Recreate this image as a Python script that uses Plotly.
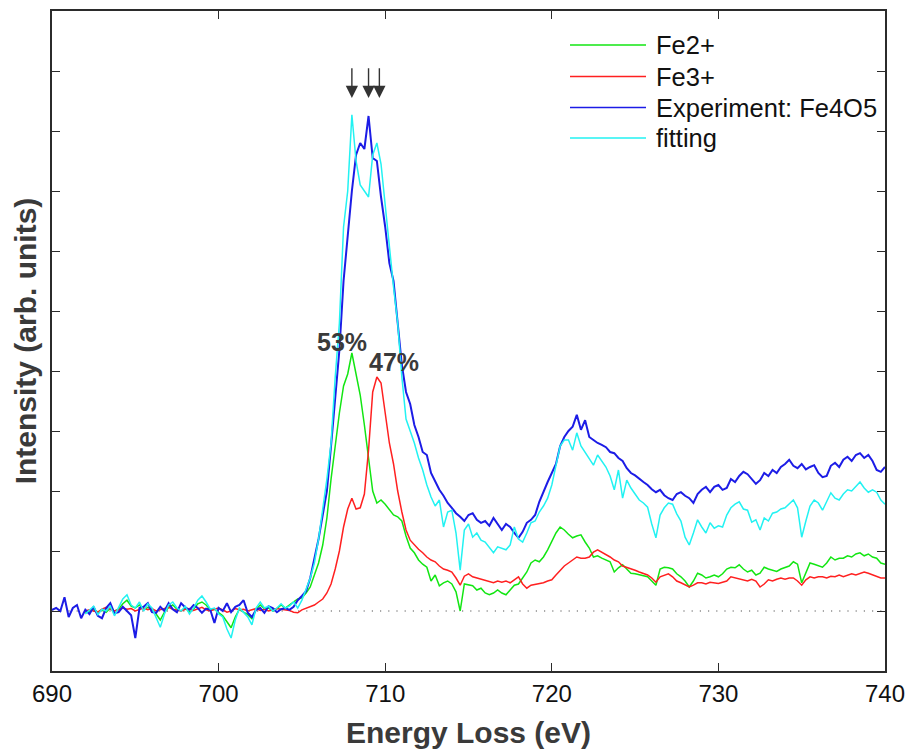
import numpy as np
import plotly.graph_objects as go

# Fe L-edge EELS of Fe4O5: measured spectrum, Fe2+/Fe3+ references and the fit.
STEP = 0.25            # eV between samples
EXP_START = 690.0      # first energy of the measured spectrum
REF_START = 692.0      # first energy of references and fit

experiment = [
    0.02, 0.05, 0.00, 0.23,   # 690
    -0.10, 0.05, 0.10, -0.12,  # 691
    0.02, -0.05, 0.07, -0.08,  # 692
    -0.12, 0.05, 0.13, -0.04,  # 693
    -0.02, 0.07, 0.00, -0.07,  # 694
    -0.45, 0.05, 0.07, 0.13,   # 695
    -0.02, -0.03, 0.07, 0.00,  # 696
    0.13, 0.03, -0.02, 0.13,   # 697
    0.06, 0.02, 0.10, 0.05,    # 698
    -0.03, 0.04, 0.02, -0.20,  # 699
    0.05, 0.00, 0.13, -0.02,   # 700
    0.07, 0.10, 0.18, -0.03,   # 701
    -0.10, 0.02, 0.05, -0.03,  # 702
    0.08, 0.05, -0.02, 0.03,   # 703
    0.05, 0.02, 0.07, 0.18,    # 704
    0.25, 0.33, 0.55, 0.85,    # 705
    1.20, 1.60, 2.00, 2.75,    # 706
    3.60, 4.35, 5.50, 6.30,    # 707
    7.00, 7.60, 7.80, 7.70,    # 708
    8.25, 7.55, 7.50, 6.90,    # 709
    6.40, 5.80, 5.50, 4.80,    # 710
    4.10, 3.65, 3.45, 3.10,    # 711
    2.90, 2.65, 2.60, 2.30,    # 712
    2.15, 2.02, 1.92, 1.80,    # 713
    1.72, 1.63, 1.57, 1.50,    # 714
    1.60, 1.63, 1.52, 1.47,    # 715
    1.50, 1.42, 1.55, 1.45,    # 716
    1.35, 1.45, 1.40, 1.30,    # 717
    1.22, 1.32, 1.47, 1.52,    # 718
    1.60, 1.82, 2.00, 2.15,    # 719
    2.30, 2.45, 2.75, 2.90,    # 720
    3.00, 3.07, 3.27, 3.02,    # 721
    3.18, 2.90, 2.85, 2.80,    # 722
    2.77, 2.73, 2.65, 2.63,    # 723
    2.55, 2.50, 2.38, 2.30,    # 724
    2.26, 2.20, 2.15, 2.10,    # 725
    2.03, 1.98, 2.02, 1.93,    # 726
    1.88, 1.85, 1.95, 1.98,    # 727
    1.92, 1.88, 1.80, 1.95,    # 728
    2.02, 2.07, 1.98, 2.07,    # 729
    2.10, 2.02, 2.05, 2.20,    # 730
    2.15, 2.25, 2.32, 2.28,    # 731
    2.20, 2.12, 2.18, 2.30,    # 732
    2.25, 2.35, 2.30, 2.40,    # 733
    2.45, 2.52, 2.42, 2.38,    # 734
    2.45, 2.36, 2.40, 2.43,    # 735
    2.30, 2.23, 2.25, 2.42,    # 736
    2.47, 2.40, 2.52, 2.57,    # 737
    2.50, 2.60, 2.63, 2.55,    # 738
    2.60, 2.50, 2.35, 2.32,    # 739
    2.40,                      # 740
]

fe2 = [
    -0.03, 0.00, 0.03, -0.02,  # 692
    0.02, -0.02, 0.05, 0.00,   # 693
    0.03, 0.12, 0.18, 0.08,    # 694
    0.05, 0.10, 0.02, 0.06,    # 695
    0.02, -0.05, -0.15, -0.02, # 696
    0.06, 0.10, 0.03, 0.00,    # 697
    0.05, -0.02, 0.03, 0.12,   # 698
    0.15, 0.10, 0.02, 0.03,    # 699
    -0.03, -0.08, -0.18, -0.28,  # 700
    -0.10, 0.03, -0.02, -0.06, # 701
    -0.13, 0.03, 0.10, 0.04,   # 702
    0.05, 0.00, 0.04, 0.10,    # 703
    0.05, 0.10, 0.14, 0.20,    # 704
    0.22, 0.30, 0.40, 0.60,    # 705
    0.80, 1.10, 1.55, 2.20,    # 706
    2.80, 3.30, 3.75, 3.95,    # 707
    4.30, 3.95, 3.60, 3.10,    # 708
    2.50, 2.00, 1.80, 1.85,    # 709
    1.78, 1.68, 1.60, 1.57,    # 710
    1.50, 1.25, 1.05, 0.97,    # 711
    0.85, 0.78, 0.73, 0.50,    # 712
    0.60, 0.42, 0.47, 0.50,    # 713
    0.45, 0.32, 0.00, 0.45,    # 714
    0.43, 0.42, 0.35, 0.38,    # 715
    0.30, 0.27, 0.30, 0.35,    # 716
    0.30, 0.27, 0.35, 0.43,    # 717
    0.45, 0.55, 0.65, 0.80,    # 718
    0.85, 0.82, 0.90, 1.02,    # 719
    1.15, 1.30, 1.40, 1.35,    # 720
    1.28, 1.22, 1.25, 1.27,    # 721
    1.15, 1.05, 0.90, 0.92,    # 722
    0.88, 0.85, 0.82, 0.65,    # 723
    0.72, 0.77, 0.70, 0.63,    # 724
    0.62, 0.60, 0.58, 0.57,    # 725
    0.50, 0.43, 0.70, 0.73,    # 726
    0.72, 0.70, 0.62, 0.57,    # 727
    0.50, 0.40, 0.50, 0.63,    # 728
    0.60, 0.55, 0.57, 0.60,    # 729
    0.57, 0.62, 0.70, 0.73,    # 730
    0.72, 0.77, 0.70, 0.65,    # 731
    0.68, 0.60, 0.63, 0.73,    # 732
    0.70, 0.68, 0.66, 0.70,    # 733
    0.73, 0.75, 0.82, 0.78,    # 734
    0.47, 0.65, 0.80, 0.78,    # 735
    0.75, 0.73, 0.80, 0.90,    # 736
    0.85, 0.88, 0.88, 0.92,    # 737
    0.90, 0.95, 0.97, 0.92,    # 738
    0.95, 0.90, 0.88, 0.80,    # 739
    0.78,                      # 740
]

fe3 = [
    0.00, 0.02, 0.00, -0.02,   # 692
    0.03, 0.06, 0.03, 0.00,    # 693
    0.02, 0.05, 0.03, 0.04,    # 694
    0.00, 0.03, 0.05, 0.02,    # 695
    0.04, 0.00, 0.02, 0.05,    # 696
    0.06, 0.03, 0.02, 0.00,    # 697
    0.03, 0.04, 0.01, 0.03,    # 698
    0.06, 0.02, 0.00, 0.03,    # 699
    0.05, 0.02, -0.02, 0.00,   # 700
    0.04, 0.02, 0.03, 0.00,    # 701
    0.02, 0.04, 0.01, 0.03,    # 702
    0.00, 0.02, 0.04, 0.03,    # 703
    0.02, 0.01, -0.02, -0.03,  # 704
    0.02, 0.05, 0.07, 0.10,    # 705
    0.15, 0.20, 0.30, 0.45,    # 706
    0.70, 1.00, 1.40, 1.70,    # 707
    1.88, 1.70, 1.72, 1.95,    # 708
    2.68, 3.65, 3.90, 3.80,    # 709
    3.30, 2.80, 2.45, 2.00,    # 710
    1.65, 1.35, 1.18, 1.10,    # 711
    1.03, 0.97, 0.90, 0.85,    # 712
    0.82, 0.75, 0.70, 0.68,    # 713
    0.65, 0.55, 0.43, 0.58,    # 714
    0.62, 0.57, 0.55, 0.53,    # 715
    0.50, 0.49, 0.47, 0.50,    # 716
    0.48, 0.50, 0.47, 0.52,    # 717
    0.57, 0.45, 0.38, 0.43,    # 718
    0.44, 0.46, 0.47, 0.50,    # 719
    0.52, 0.60, 0.68, 0.75,    # 720
    0.80, 0.85, 0.90, 0.88,    # 721
    0.88, 0.90, 0.98, 1.02,    # 722
    0.98, 0.95, 0.90, 0.85,    # 723
    0.82, 0.75, 0.73, 0.70,    # 724
    0.68, 0.65, 0.63, 0.60,    # 725
    0.55, 0.48, 0.57, 0.60,    # 726
    0.62, 0.57, 0.50, 0.47,    # 727
    0.43, 0.40, 0.43, 0.47,    # 728
    0.47, 0.45, 0.48, 0.47,    # 729
    0.46, 0.48, 0.50, 0.57,    # 730
    0.55, 0.53, 0.52, 0.50,    # 731
    0.53, 0.50, 0.40, 0.45,    # 732
    0.52, 0.50, 0.53, 0.55,    # 733
    0.53, 0.55, 0.55, 0.50,    # 734
    0.43, 0.52, 0.57, 0.55,    # 735
    0.57, 0.57, 0.55, 0.58,    # 736
    0.57, 0.60, 0.57, 0.60,    # 737
    0.62, 0.60, 0.63, 0.65,    # 738
    0.63, 0.60, 0.58, 0.55,    # 739
    0.55,                      # 740
]

fitting = [
    -0.05, 0.02, 0.08, -0.06,  # 692
    0.03, 0.00, 0.08, -0.08,   # 693
    0.05, 0.20, 0.27, 0.10,    # 694
    0.05, 0.15, 0.00, 0.12,    # 695
    0.05, -0.10, -0.27, -0.05, # 696
    0.10, 0.15, 0.05, 0.00,    # 697
    0.08, -0.05, 0.05, 0.18,   # 698
    0.25, 0.15, 0.03, 0.05,    # 699
    -0.05, -0.10, -0.30, -0.45,  # 700
    -0.15, 0.05, -0.02, -0.10, # 701
    -0.23, 0.05, 0.15, 0.05,   # 702
    0.08, 0.00, 0.05, 0.12,    # 703
    0.05, 0.08, 0.15, 0.05,    # 704
    0.18, 0.35, 0.55, 0.80,    # 705
    1.20, 1.70, 2.20, 2.80,    # 706
    3.90, 4.80, 6.40, 7.00,    # 707
    8.27, 7.50, 7.10, 7.00,    # 708
    6.90, 7.60, 7.80, 7.45,    # 709
    6.75, 6.00, 5.40, 4.80,    # 710
    3.90, 3.20, 3.00, 2.80,    # 711
    2.55, 2.35, 2.10, 1.90,    # 712
    1.75, 1.85, 1.40, 1.65,    # 713
    1.68, 1.30, 0.68, 1.35,    # 714
    1.45, 1.23, 1.30, 1.18,    # 715
    1.15, 1.05, 0.97, 1.07,    # 716
    1.05, 1.02, 1.10, 1.40,    # 717
    1.20, 1.15, 1.30, 1.47,    # 718
    1.50, 1.65, 1.75, 1.88,    # 719
    2.10, 2.40, 2.75, 2.85,    # 720
    2.85, 2.68, 2.97, 2.75,    # 721
    2.65, 2.55, 2.43, 2.60,    # 722
    2.50, 2.40, 2.25, 2.02,    # 723
    2.35, 1.88, 2.18, 2.05,    # 724
    1.95, 1.85, 1.80, 1.73,    # 725
    1.45, 1.22, 1.60, 1.72,    # 726
    1.80, 1.78, 1.62, 1.50,    # 727
    1.23, 1.10, 1.30, 1.52,    # 728
    1.40, 1.30, 1.47, 1.38,    # 729
    1.42, 1.40, 1.60, 1.72,    # 730
    1.78, 1.82, 1.70, 1.68,    # 731
    1.48, 1.52, 1.35, 1.55,    # 732
    1.50, 1.63, 1.65, 1.70,    # 733
    1.72, 1.78, 1.85, 1.72,    # 734
    1.23, 1.50, 1.75, 1.85,    # 735
    1.80, 1.68, 1.82, 1.97,    # 736
    1.88, 1.85, 1.95, 2.02,    # 737
    2.00, 2.08, 2.15, 2.05,    # 738
    1.98, 2.02, 1.98, 1.85,    # 739
    1.78,                      # 740
]

series_names = ["Fe2+", "Fe3+", "Experiment: Fe4O5", "fitting"]
series_colors = ["#12e612", "#ff2020", "#1c1ce6", "#22f2f2"]
series_widths = [1.5, 1.5, 2.0, 1.5]
series_values = [fe2, fe3, experiment, fitting]
series_starts = [REF_START, REF_START, EXP_START, REF_START]

# oxidation-state fractions from the fit
fractions = [53, 47]
# energies marked with arrows above the L3 maximum
arrow_energies = [708.0, 709.0, 709.65]

x_ticks = [690, 700, 710, 720, 730, 740]
y_ticks = list(range(-1, 11))

FONT = "Liberation Sans, Arial, sans-serif"
TITLE_GRAY = "#3a3a3a"
AXIS_GRAY = "#2b2b2b"

fig = go.Figure()

for name, color, width, vals, start in zip(series_names, series_colors,
                                            series_widths, series_values,
                                            series_starts):
    energy = start + STEP * np.arange(len(vals))
    fig.add_trace(go.Scatter(x=energy, y=vals, mode="lines", name=name,
                             line=dict(color=color, width=width),
                             showlegend=False))

# dotted zero line beneath the spectra
fig.add_shape(type="line", xref="paper", x0=0, x1=1, yref="y", y0=0, y1=0,
              line=dict(color="#555555", width=1.2, dash="1.2px,7px"),
              layer="below")

annotations = []

# arrows over the main peak
for e in arrow_energies:
    annotations.append(dict(x=e, y=8.55, ax=e, ay=9.07, axref="x", ayref="y",
                            xref="x", yref="y", text="", showarrow=True,
                            arrowhead=2, arrowsize=1.75, arrowwidth=1.4,
                            arrowcolor="#333333"))

# fraction labels next to each reference peak
for vals, frac, dx, dy in zip([fe2, fe3], fractions, [-10, 17], [11, 15]):
    i = int(np.argmax(vals))
    annotations.append(dict(x=REF_START + STEP * i, y=vals[i], xref="x", yref="y",
                            text=f"<b>{frac}%</b>", showarrow=False,
                            xshift=dx, yshift=dy,
                            font=dict(family=FONT, size=25, color=TITLE_GRAY)))

# legend: long line samples with labels
PLOT_L, PLOT_R, PLOT_T, PLOT_B = 52, 885, 11, 671
W = PLOT_R - PLOT_L
H = PLOT_B - PLOT_T
legend_rows = [45, 76.5, 107.5, 138]
for row, name, color in zip(legend_rows, series_names, series_colors):
    yp = (PLOT_B - row) / H
    fig.add_shape(type="line", xref="paper", yref="paper",
                  x0=(570 - PLOT_L) / W, x1=(646 - PLOT_L) / W, y0=yp, y1=yp,
                  line=dict(color=color, width=1.5))
    annotations.append(dict(xref="paper", yref="paper", x=(654 - PLOT_L) / W,
                            y=yp, xanchor="left", yanchor="middle",
                            text=name, showarrow=False,
                            font=dict(family=FONT, size=25.5, color="#111111")))

fig.update_layout(
    width=912, height=750,
    margin=dict(l=PLOT_L, r=912 - PLOT_R, t=PLOT_T, b=750 - PLOT_B,
                autoexpand=False),
    paper_bgcolor="white", plot_bgcolor="white",
    showlegend=False,
    annotations=annotations,
    font=dict(family=FONT),
)

fig.update_xaxes(
    range=[690, 740], tickvals=x_ticks, ticktext=[str(t) for t in x_ticks],
    ticks="inside", ticklen=8, tickwidth=1.3, tickcolor=AXIS_GRAY,
    showline=True, linecolor=AXIS_GRAY, linewidth=1.6, mirror="allticks",
    showgrid=False, zeroline=False, automargin=False,
    tickfont=dict(family=FONT, size=24, color="#111111"),
    title=dict(text="<b>Energy Loss (eV)</b>", standoff=16,
               font=dict(family=FONT, size=30, color=TITLE_GRAY)),
)
fig.update_yaxes(
    range=[-1, 10], tickvals=y_ticks, showticklabels=False,
    ticks="inside", ticklen=8, tickwidth=1.3, tickcolor=AXIS_GRAY,
    showline=True, linecolor=AXIS_GRAY, linewidth=1.6, mirror="allticks",
    showgrid=False, zeroline=False, automargin=False,
    title=dict(text="<b>Intensity (arb. units)</b>", standoff=5,
               font=dict(family=FONT, size=30, color=TITLE_GRAY)),
)

fig.write_html("out.html")
